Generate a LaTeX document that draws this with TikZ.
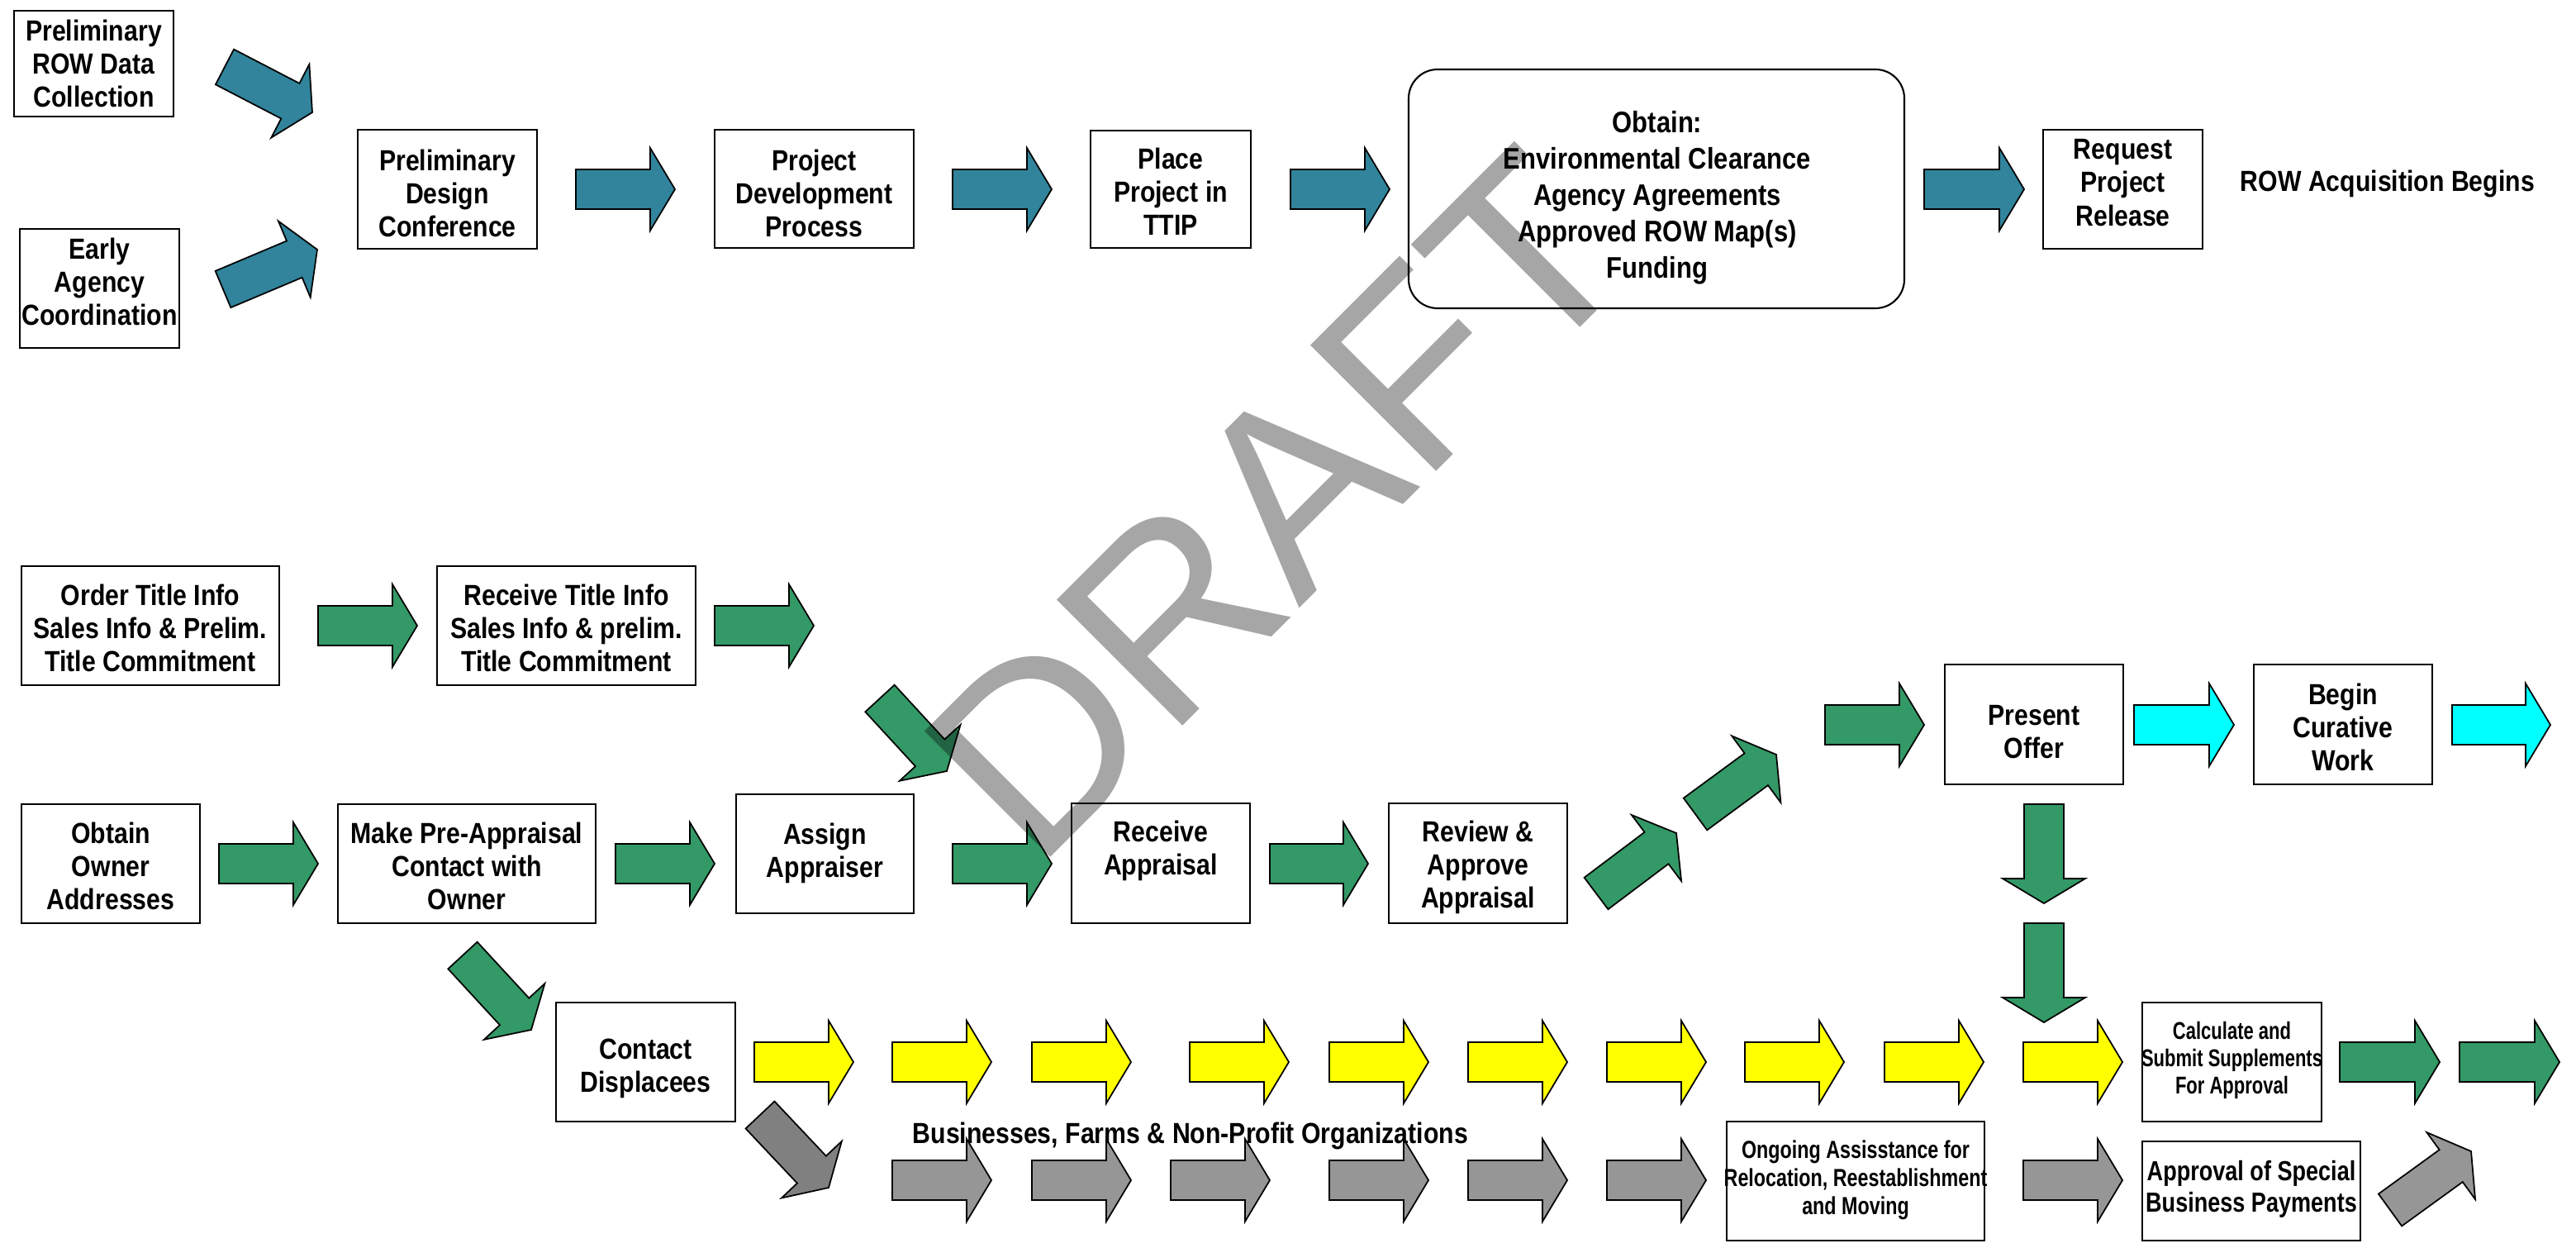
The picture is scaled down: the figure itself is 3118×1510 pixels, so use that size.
\documentclass[tikz,border=0pt]{standalone}
\usepackage{fontspec}
\setmainfont{Liberation Sans}
\newfontfamily\nfMain[FakeStretch=0.86]{Liberation Sans}
\newfontfamily\nfMid[FakeStretch=0.81]{Liberation Sans}
\newfontfamily\nfCalc[FakeStretch=0.75]{Liberation Sans}
\newfontfamily\nfOng[FakeStretch=0.78]{Liberation Sans}
\usetikzlibrary{calc,fit}

\definecolor{tealc}{HTML}{31849B}
\definecolor{greenc}{HTML}{339966}
\definecolor{cyanc}{HTML}{00FFFF}
\definecolor{yellowc}{HTML}{FFFF00}
\definecolor{grayc}{HTML}{969696}
\definecolor{dgrayc}{HTML}{808080}

% block arrow: #1 style, #2 name, #3 tail centre, #4 tip
\newcommand\blockarrow[4]{%
  \coordinate (#2-s) at #3;
  \coordinate (#2-e) at #4;
  \coordinate (#2-h) at ($(#2-e)!0.30cm!(#2-s)$);
  \draw[#1] ($(#2-s)!0.24cm!90:(#2-e)$) -- ($(#2-h)!0.24cm!90:(#2-e)$)
    -- ($(#2-h)!0.5cm!90:(#2-e)$) -- (#2-e)
    -- ($(#2-h)!0.5cm!-90:(#2-e)$) -- ($(#2-h)!0.24cm!-90:(#2-e)$)
    -- ($(#2-s)!0.24cm!-90:(#2-e)$) -- cycle;
}

\begin{document}
\begin{tikzpicture}[x=0.01cm, y=-0.01cm,
  boxs/.style={draw=black, line width=0.6pt, fill=white, inner sep=0pt},
  rbox/.style={boxs, rounded corners=0.35cm},
  lbl/.style={font=\nfMain\bfseries\fontsize{10pt}{11.4pt}\selectfont, align=center, inner sep=0pt},
  lblbig/.style={font=\nfMain\bfseries\fontsize{10.25pt}{12.5pt}\selectfont, align=center, inner sep=0pt},
  lblmid/.style={font=\nfMid\bfseries\fontsize{9.5pt}{10.8pt}\selectfont, align=center, inner sep=0pt},
  lblcalc/.style={font=\nfCalc\bfseries\fontsize{8.35pt}{9.4pt}\selectfont, align=center, inner sep=0pt},
  lblong/.style={font=\nfOng\bfseries\fontsize{8.5pt}{9.7pt}\selectfont, align=center, inner sep=0pt},
  arr/.style={draw=black, line width=0.5pt, line join=miter},
  tealA/.style={arr, fill=tealc},
  greenA/.style={arr, fill=greenc},
  cyanA/.style={arr, fill=cyanc},
  yellowA/.style={arr, fill=yellowc},
  grayA/.style={arr, fill=grayc},
  dgrayA/.style={arr, fill=dgrayc},
]
\useasboundingbox (0,0) rectangle (3118,1510);

% ---------- project development flow (teal) ----------
\blockarrow{tealA}{a1}{(272,81)}{(378,136)}
\blockarrow{tealA}{a2}{(270,350)}{(384,302)}
\blockarrow{tealA}{a3}{(697,229)}{(817,229)}
\blockarrow{tealA}{a4}{(1153,229)}{(1273,229)}
\blockarrow{tealA}{a5}{(1562,229)}{(1682,229)}
\blockarrow{tealA}{a6}{(2329,229)}{(2450,229)}

\node[boxs, fit={(17,13) (210,141)}] (prdc) {};
\node[boxs, fit={(24,277) (217,421)}] (eac) {};
\node[boxs, fit={(433,157) (650,301)}] (pdc) {};
\node[boxs, fit={(865,157) (1106,300)}] (pdp) {};
\node[boxs, fit={(1320,158) (1514,300)}] (ttip) {};
\node[rbox, fit={(1705,84) (2305,373)}] (obt) {};
\node[boxs, fit={(2473,157) (2666,301)}] (rpr) {};

\node[lbl] (prdc-t) at (113.5,77) {Preliminary\\ROW Data\\Collection};
\node[lbl] (eac-t) at (120.5,341) {Early\\Agency\\Coordination};
\node[lbl] (pdc-t) at (541.5,234) {Preliminary\\Design\\Conference};
\node[lbl] (pdp-t) at (985.5,234) {Project\\Development\\Process};
\node[lbl] (ttip-t) at (1417,232) {Place\\Project in\\TTIP};
\node[lblbig] (obt-t) at (2006,239) {Obtain:\\Environmental Clearance\\Agency Agreements\\Approved ROW Map(s)\\Funding};
\node[lbl] (rpr-t) at (2569.5,221) {Request\\Project\\Release};
\node[lbl, anchor=base west] (rowab) at (2711,232) {ROW Acquisition Begins};

% ---------- acquisition flow (green) ----------
\blockarrow{greenA}{g1}{(385,757)}{(505,757)}
\blockarrow{greenA}{g2}{(865,757)}{(985,757)}
\blockarrow{greenA}{g3}{(265,1045)}{(385,1045)}
\blockarrow{greenA}{g4}{(745,1045)}{(865,1045)}
\blockarrow{greenA}{gd1}{(1065,845)}{(1146,933)}
\blockarrow{greenA}{g5}{(1153,1045)}{(1273,1045)}
\blockarrow{greenA}{g6}{(1537,1045)}{(1656,1045)}
\blockarrow{greenA}{g7}{(1932,1081)}{(2029,1008)}
\blockarrow{greenA}{g8}{(2052,985)}{(2150,913)}
\blockarrow{greenA}{g9}{(2209,877)}{(2329,877)}
\blockarrow{greenA}{d1}{(2474,973)}{(2474,1093)}
\blockarrow{greenA}{d2}{(2474,1117)}{(2474,1237)}
\blockarrow{greenA}{g10}{(560,1156)}{(643,1246)}
\blockarrow{greenA}{g11}{(2832,1285)}{(2953,1285)}
\blockarrow{greenA}{g12}{(2977,1285)}{(3098,1285)}
\blockarrow{cyanA}{c1}{(2583,877)}{(2704,877)}
\blockarrow{cyanA}{c2}{(2968,877)}{(3087,877)}

% relocation row (yellow)
\foreach \xx [count=\i] in {913,1080,1249,1440,1609,1777,1945,2112,2281,2449}{
  \blockarrow{yellowA}{y\i}{(\xx,1285)}{(\xx+120,1285)}
}
% business row (gray)
\foreach \xx [count=\i] in {1080,1249,1417,1609,1777,1945,2449}{
  \blockarrow{grayA}{r\i}{(\xx,1428)}{(\xx+120,1428)}
}
\blockarrow{dgrayA}{gd2}{(920,1349)}{(1003,1437)}
\blockarrow{grayA}{gd3}{(2893,1464)}{(2991,1393)}

\node[boxs, fit={(26,685) (338,829)}] (oti) {};
\node[boxs, fit={(529,685) (842,829)}] (rti) {};
\node[boxs, fit={(26,973) (242,1117)}] (ooa) {};
\node[boxs, fit={(409,973) (721,1117)}] (mpa) {};
\node[boxs, fit={(891,961) (1106,1105)}] (aa) {};
\node[boxs, fit={(1297,972) (1513,1117)}] (ra) {};
\node[boxs, fit={(1681,972) (1897,1117)}] (raa) {};
\node[boxs, fit={(2354,804) (2570,949)}] (po) {};
\node[boxs, fit={(2728,804) (2944,949)}] (bcw) {};
\node[boxs, fit={(673,1213) (890,1357)}] (cd) {};
\node[boxs, fit={(2593,1213) (2810,1357)}] (csa) {};
\node[boxs, fit={(2090,1357) (2402,1501)}] (oar) {};
\node[boxs, fit={(2593,1381) (2857,1501)}] (asbp) {};

\node[lbl] (oti-t) at (182,760) {Order Title Info\\Sales Info \& Prelim.\\Title Commitment};
\node[lbl] (rti-t) at (685.5,760) {Receive Title Info\\Sales Info \& prelim.\\Title Commitment};
\node[lbl] (ooa-t) at (134,1048) {Obtain\\Owner\\Addresses};
\node[lbl] (mpa-t) at (565,1048) {Make Pre-Appraisal\\Contact with\\Owner};
\node[lbl] (aa-t) at (998.5,1032) {Assign\\Appraiser};
\node[lbl] (ra-t) at (1405,1029) {Receive\\Appraisal};
\node[lbl] (raa-t) at (1789,1049) {Review \&\\Approve\\Appraisal};
\node[lbl] (po-t) at (2462,886) {Present\\Offer};
\node[lbl] (bcw-t) at (2836,880) {Begin\\Curative\\Work};
\node[lbl] (cd-t) at (781.5,1293) {Contact\\Displacees};
\node[lblcalc] (csa-t) at (2701.5,1283) {Calculate and\\Submit Supplements\\For Approval};
\node[lblong] (oar-t) at (2246,1428) {Ongoing Assisstance for\\Relocation, Reestablishment\\and Moving};
\node[lblmid] (asbp-t) at (2725,1439) {Approval of Special\\Business Payments};
\node[lbl, anchor=base west] (bfn) at (1104,1383) {Businesses, Farms \& Non-Profit Organizations};

% ---------- watermark ----------
\node[rotate=45, inner sep=0pt, text=black, text opacity=0.35,
      font=\fontsize{89pt}{89pt}\selectfont] (wm) at (1546,611) {DRAFT};
\end{tikzpicture}
\end{document}
